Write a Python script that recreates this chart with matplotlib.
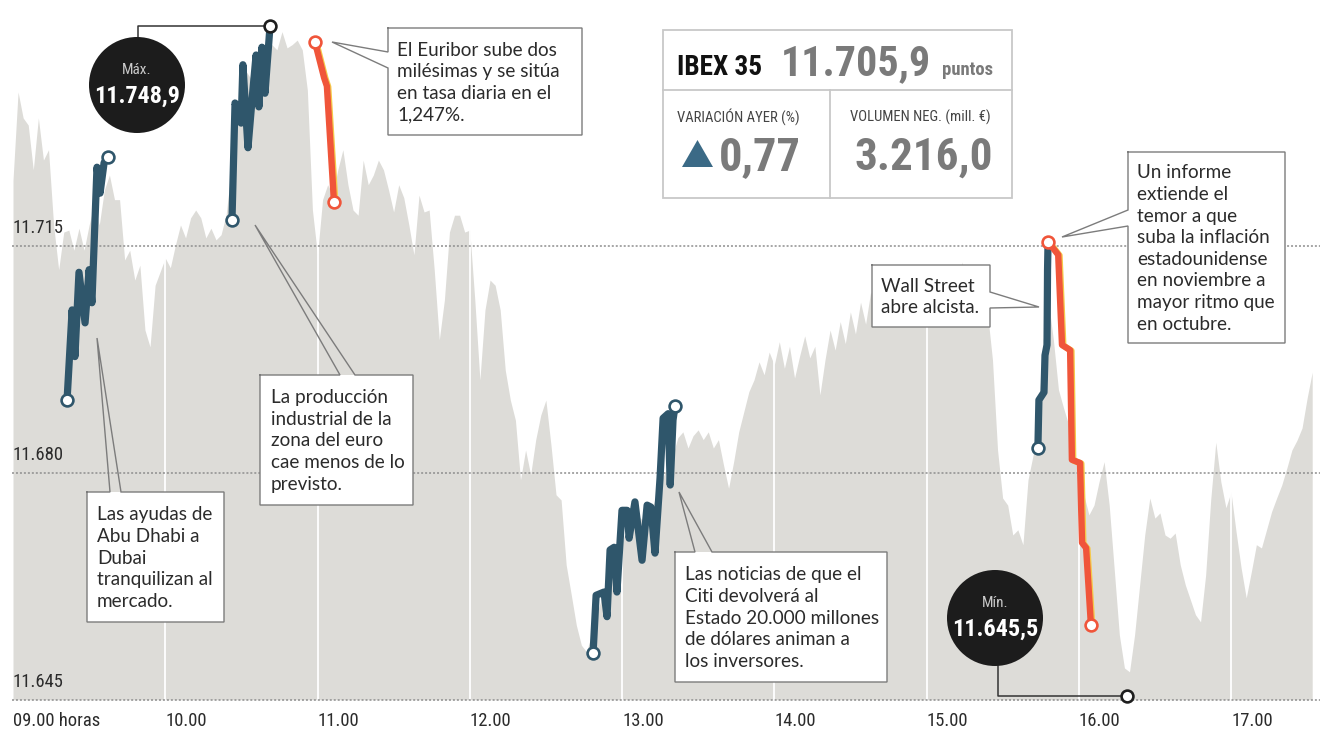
import numpy as np
import matplotlib
matplotlib.use("Agg")
import matplotlib.pyplot as plt
from matplotlib import font_manager as fm
from matplotlib.patches import Circle, Rectangle, Polygon
from matplotlib.transforms import Affine2D, offset_copy

# ---------------------------------------------------------------- data
# IBEX 35 intraday level, sampled every 2 minutes from 09:00
SAMPLE_STEP_MIN = 2
session_values = [
    11725.1, 11738.7, 11734.7, 11733.6, 11726.7, 11734.7, 11728.2, 11729.8, 11718.2, 11711.3,
    11717.1, 11717.4, 11714.3, 11717.7, 11714.3, 11718.2, 11721.3, 11718.2, 11723.6, 11725.9,
    11722.1, 11722.1, 11712.8, 11714.3, 11709.7, 11712.0, 11702.0, 11699.4, 11708.9, 11711.0,
    11713.1, 11711.6, 11715.1, 11718.2, 11716.2, 11719.3, 11720.5, 11719.3, 11716.2, 11717.7,
    11715.9, 11716.7, 11719.8, 11726.7, 11733.6, 11738.2, 11741.8, 11740.6, 11742.4, 11744.3,
    11745.7, 11746.0, 11745.2, 11748.0, 11745.5, 11746.0, 11746.7, 11745.2, 11739.0, 11720.5,
    11713.6, 11722.1, 11724.4, 11722.8, 11726.7, 11729.8, 11724.4, 11720.5, 11719.7, 11728.2,
    11724.4, 11725.9, 11728.2, 11726.7, 11723.6, 11720.2, 11724.4, 11722.4, 11718.2, 11713.6,
    11722.8, 11720.2, 11720.5, 11711.3, 11700.5, 11706.6, 11717.1, 11719.7, 11719.7, 11717.1,
    11717.4, 11706.6, 11694.3, 11705.1, 11709.7, 11708.9, 11705.1, 11695.8, 11691.2, 11688.1,
    11678.9, 11683.5, 11679.7, 11685.1, 11688.9, 11691.2, 11684.3, 11676.6, 11675.8, 11665.8,
    11661.2, 11656.5, 11653.4, 11652.4, 11655.0, 11658.1, 11660.7, 11662.2, 11664.7, 11666.9,
    11669.3, 11671.5, 11672.4, 11673.5, 11672.7, 11675.0, 11674.6, 11677.3, 11679.2, 11681.0,
    11682.7, 11685.4, 11686.3, 11683.8, 11685.7, 11686.6, 11685.1, 11686.3, 11683.8, 11685.1,
    11681.2, 11677.6, 11681.7, 11686.3, 11689.4, 11692.5, 11694.3, 11697.1, 11695.1, 11698.6,
    11696.6, 11700.2, 11696.1, 11699.5, 11694.6, 11698.0, 11701.1, 11697.7, 11699.5, 11692.0,
    11697.4, 11702.0, 11698.9, 11703.3, 11699.9, 11704.8, 11701.4, 11706.3, 11702.9, 11707.9,
    11705.1, 11709.4, 11706.0, 11710.3, 11706.6, 11711.0, 11706.9, 11709.4, 11705.4, 11708.8,
    11703.9, 11707.3, 11704.5, 11709.4, 11706.9, 11710.3, 11706.3, 11712.5, 11708.5, 11711.0,
    11706.6, 11703.9, 11704.8, 11697.4, 11683.5, 11676.1, 11675.0, 11670.4, 11671.2, 11668.9,
    11678.9, 11682.7, 11688.1, 11700.5, 11706.6, 11700.5, 11692.8, 11690.0, 11687.4, 11683.8,
    11680.4, 11676.6, 11673.5, 11675.0, 11678.6, 11681.7, 11675.0, 11665.0, 11655.0, 11649.9,
    11649.3, 11655.0, 11662.7, 11670.4, 11676.1, 11673.0, 11673.8, 11670.4, 11669.9, 11670.7,
    11665.8, 11662.7, 11660.4, 11658.1, 11657.0, 11664.2, 11675.8, 11684.7, 11678.6, 11674.6,
    11677.0, 11670.9, 11665.3, 11660.7, 11664.7, 11668.9, 11668.4, 11671.2, 11674.0, 11676.1,
    11678.1, 11680.7, 11683.5, 11685.0, 11686.9, 11691.5, 11695.5,
]

# highlighted stretches (minutes after 09:00, index level)
abu_dhabi_min = [21.3, 23.3, 24.4, 26.0, 28.4, 30.0, 31.1, 33.1, 34.3, 35.9, 37.4]
abu_dhabi_val = [11691.2, 11705.1, 11697.9, 11710.9, 11703.1, 11711.3, 11706.2, 11727.1,
                 11723.1, 11727.8, 11728.7]

industria_min = [86.3, 87.5, 89.9, 90.6, 92.6, 94.2, 95.8, 96.9, 98.1, 99.3, 101.3]
industria_val = [11719.0, 11737.0, 11733.9, 11742.9, 11730.1, 11737.5, 11744.4, 11736.4,
                 11745.6, 11738.5, 11748.9]

euribor_min = [119.0, 122.6, 123.7, 126.5]
euribor_val = [11746.4, 11740.9, 11739.6, 11721.7]

citi_min = [228.6, 229.8, 232.9, 234.1, 235.3, 236.9, 238.0, 240.0, 242.0, 242.8, 245.1,
            247.9, 249.9, 251.4, 253.0, 255.0, 256.2, 258.2, 259.0, 260.1, 260.9]
citi_val = [11652.2, 11661.1, 11661.6, 11657.8, 11668.1, 11668.5, 11661.6, 11674.2, 11674.2,
            11669.9, 11675.5, 11666.5, 11675.0, 11674.7, 11667.6, 11679.2, 11688.4, 11689.1,
            11678.1, 11688.1, 11690.3]

wall_st_min = [403.9, 404.3, 406.3, 406.7, 407.5, 407.7, 407.9]
wall_st_val = [11683.8, 11691.2, 11692.4, 11698.1, 11699.7, 11711.3, 11715.6]

inflacion_min = [407.9, 411.9, 413.4, 416.6, 417.3, 420.5, 421.3, 422.9, 424.8]
inflacion_val = [11715.6, 11713.6, 11699.7, 11698.9, 11682.0, 11681.5, 11669.2, 11668.4,
                 11656.5]

max_min, max_val = 101.3, 11748.9
low_min, low_val = 439.0, 11645.5

ytick_values = [11645, 11680, 11715]
ytick_labels = ["11.645", "11.680", "11.715"]
xtick_hours = [9, 10, 11, 12, 13, 14, 15, 16, 17]
xtick_labels = ["09.00 horas", "10.00", "11.00", "12.00", "13.00", "14.00", "15.00",
                "16.00", "17.00"]

ibex_close = "11.705,9"
ibex_change = "0,77"
ibex_volume = "3.216,0"

# ---------------------------------------------------------------- fonts
ttf = fm.fontManager.ttflist
names = {f.name for f in ttf}


def pick_narrow():
    for n in ["Roboto Condensed", "Liberation Sans Narrow", "Open Sans Condensed",
              "Noto Sans Condensed", "Noto Sans SemiCondensed", "Fira Sans Condensed",
              "Arial Narrow"]:
        if n in names:
            return dict(family=n), True
    for f in ttf:
        if f.name in ("DejaVu Sans", "Noto Sans", "Open Sans", "Roboto") and \
                f.stretch in ("condensed", "semi-condensed"):
            return dict(family=f.name, stretch=f.stretch), True
    for n in sorted(names):
        if ("Condensed" in n or "Narrow" in n) and "Mono" not in n and "Serif" not in n:
            return dict(family=n), True
    return dict(family="Roboto"), False


NARROW, IS_CONDENSED = pick_narrow()
NS = 1.12 if IS_CONDENSED else 1.0          # condensed faces can run a little larger
BODY = "Lato" if "Lato" in names else "DejaVu Sans"

BLUE = "#2f566b"
RED = "#f0553a"
RED_HALO = "#f5c94a"
AREA = "#dddcd8"
INK = "#2b2b2b"
NUM_GREY = "#7a7a7a"

W, H = 1326, 730
fig = plt.figure(figsize=(W / 100, H / 100), dpi=100)
fig.patch.set_facecolor("white")
ax = fig.add_axes([0, 0, 1, 1])
ax.set_xlim(8.914613, 17.62397)
ax.set_ylim(11640.33, 11752.88)
ax.axis("off")

# pixel layout transform (origin top-left)
PX = Affine2D().scale(1 / W, -1 / H).translate(0, 1) + fig.transFigure


def hrs(minutes):
    return 9 + np.asarray(minutes, dtype=float) / 60.0


# ---------------------------------------------------------------- session area
base = ytick_values[0]
t_all = hrs(np.arange(len(session_values)) * SAMPLE_STEP_MIN)
ax.fill_between(t_all, base, session_values, color=AREA, lw=0, zorder=1)

for h in xtick_hours[1:]:
    ax.plot([h, h], [base, ax.get_ylim()[1]], color="white", lw=1.3, zorder=2)

ax.hlines(ytick_values, 8.993, 17.585, colors="#8e8e8e", linestyles=(0, (1.3, 1.3)),
          lw=1.1, zorder=3)

for v, lab in zip(ytick_values, ytick_labels):
    ax.annotate(lab, xy=(12 / W, v), xycoords=("axes fraction", "data"),
                xytext=(0, 6), textcoords="offset points", ha="left", va="bottom",
                fontsize=12 * NS, color=INK, zorder=3, **NARROW)

for h, lab in zip(xtick_hours, xtick_labels):
    ax.annotate(lab, xy=(h, base), xycoords="data", xytext=(0, -15.5),
                textcoords="offset points", ha="left", va="center",
                fontsize=12 * NS, color=INK, **NARROW)


# ---------------------------------------------------------------- highlighted moves
halo_tr = offset_copy(ax.transData, fig=fig, x=1.3, y=-0.6, units="dots")


def move(mins, vals, color, lw, start_edge=None, end_edge=None, halo=None):
    x = hrs(mins)
    if halo is not None:
        ax.plot(x, vals, color=halo, lw=lw, solid_capstyle="round",
                solid_joinstyle="round", zorder=3.9, transform=halo_tr)
    ax.plot(x, vals, color=color, lw=lw, solid_capstyle="round",
            solid_joinstyle="round", zorder=4)
    for xi, vi, ec in ((x[0], vals[0], start_edge), (x[-1], vals[-1], end_edge)):
        if ec is not None:
            ax.plot([xi], [vi], "o", ms=8.5, mfc="white", mec=ec, mew=1.9, zorder=5)


move(abu_dhabi_min, abu_dhabi_val, BLUE, 5.2, BLUE, BLUE)
move(industria_min, industria_val, BLUE, 5.2, BLUE, None)
move(euribor_min, euribor_val, RED, 4.6, RED, RED, halo=RED_HALO)
move(citi_min, citi_val, BLUE, 5.2, BLUE, BLUE)
move(wall_st_min, wall_st_val, BLUE, 5.2, BLUE, None)
move(inflacion_min, inflacion_val, RED, 4.6, RED, RED, halo=RED_HALO)

# extremes
ax.plot(hrs([max_min]), [max_val], "o", ms=8.5, mfc="white", mec="#1e1e1e", mew=1.9, zorder=6)
ax.plot(hrs([low_min]), [low_val], "o", ms=8.5, mfc="white", mec="#1e1e1e", mew=1.9, zorder=6)


def to_px(h, v):
    return PX.inverted().transform(ax.transData.transform((h, v)))


def bubble(cx, cy, r, head, value, anchor_x, mark_h, mark_v, down):
    ax.add_patch(Circle((cx, cy), r, transform=PX, fc="#1c1c1c", ec="none", zorder=7))
    ax.text(cx, cy - 15, head, transform=PX, ha="center", va="center", fontsize=11,
            color="#c9c9c9", zorder=8, **NARROW)
    ax.text(cx, cy + 11, value, transform=PX, ha="center", va="center",
            fontsize=15.5 * NS, weight="bold", color="white", zorder=8, **NARROW)
    mx, my = to_px(mark_h, mark_v)
    y0 = cy + r if down else cy - r
    ax.plot([anchor_x, anchor_x, mx], [y0, my, my], transform=PX, color="#333333",
            lw=1.1, zorder=5.5)


bubble(137, 85, 48, "Máx.", "11.748,9", 138, hrs(max_min), max_val, down=False)
bubble(995, 618, 48, "Mín.", "11.645,5", 998, hrs(low_min), low_val, down=True)


# ---------------------------------------------------------------- callouts
def callout(text, box, side, base_a, base_b, tip, text_x):
    left, top, right, bottom = box
    ax.add_patch(Rectangle((left, top), right - left, bottom - top, transform=PX,
                           fc="white", ec="none", zorder=7))
    if side == "top":
        pts = [(left, top), (base_a, top), tip, (base_b, top), (right, top),
               (right, bottom), (left, bottom), (left, top)]
    elif side == "left":
        pts = [(left, top), (right, top), (right, bottom), (left, bottom),
               (left, base_b), tip, (left, base_a), (left, top)]
    else:
        pts = [(left, top), (right, top), (right, base_a), tip, (right, base_b),
               (right, bottom), (left, bottom), (left, top)]
    xs, ys = zip(*pts)
    ax.plot(xs, ys, transform=PX, color="#7c7c7c", lw=1.0, zorder=7.5,
            solid_joinstyle="miter")
    ax.text(text_x, (top + bottom) / 2 + 1, text, transform=PX, ha="left", va="center",
            fontsize=13.6, family=BODY, color=INK, linespacing=1.33, zorder=8)


callout("Las ayudas de\nAbu Dhabi a\nDubai\ntranquilizan al\nmercado.",
        (87, 492, 224, 622), "top", 110, 121, (97, 338), 97)
callout("La producción\nindustrial de la\nzona del euro\ncae menos de lo\nprevisto.",
        (260, 375, 413, 505), "top", 340, 355, (255, 225), 271)
callout("El Euribor sube dos\nmilésimas y se sitúa\nen tasa diaria en el\n1,247%.",
        (388, 28, 582, 135), "left", 52, 68, (332, 42), 397)
callout("Las noticias de que el\nCiti devolverá al\nEstado 20.000 millones\n"
        "de dólares animan a\nlos inversores.",
        (675, 552, 887, 682), "top", 695, 712, (679, 492), 685)
callout("Wall Street\nabre alcista.",
        (872, 265, 990, 327), "right", 292, 308, (1039, 307), 881)
callout("Un informe\nextiende el\ntemor a que\nsuba la inflación\nestadounidense\n"
        "en noviembre a\nmayor ritmo que\nen octubre.",
        (1128, 152, 1285, 343), "left", 210, 226, (1062, 237), 1137)

# ---------------------------------------------------------------- index summary
ax.add_patch(Rectangle((663, 30), 349, 168, transform=PX, fc="white", ec="#c8c8c8",
                       lw=1.3, zorder=7))
ax.plot([663, 1012], [90, 90], transform=PX, color="#c8c8c8", lw=1.3, zorder=7.5)
ax.plot([830, 830], [90, 198], transform=PX, color="#c8c8c8", lw=1.3, zorder=7.5)

ax.text(677, 75, "IBEX 35", transform=PX, ha="left", va="baseline", fontsize=17.5 * NS,
        weight="heavy", color="#111111", zorder=8, **NARROW)
ax.text(781, 75, ibex_close, transform=PX, ha="left", va="baseline", fontsize=27 * NS,
        weight="bold", color=NUM_GREY, zorder=8, **NARROW)
ax.text(942, 75, "puntos", transform=PX, ha="left", va="baseline", fontsize=12 * NS,
        weight="bold", color=NUM_GREY, zorder=8, **NARROW)
ax.text(677, 117, "VARIACIÓN AYER (%)", transform=PX, ha="left", va="center",
        fontsize=9.5 * NS, color="#444444", zorder=8, **NARROW)
ax.text(850, 117, "VOLUMEN NEG. (mill. €)", transform=PX, ha="left", va="center",
        fontsize=9.5 * NS, color="#444444", zorder=8, **NARROW)
ax.add_patch(Polygon([(682, 167), (713, 167), (697.5, 140)], closed=True, transform=PX,
                     fc="#3b6a86", ec="none", zorder=8))
ax.text(719, 170, ibex_change, transform=PX, ha="left", va="baseline", fontsize=30 * NS,
        weight="bold", color=NUM_GREY, zorder=8, **NARROW)
ax.text(854, 170, ibex_volume, transform=PX, ha="left", va="baseline", fontsize=29 * NS,
        weight="bold", color=NUM_GREY, zorder=8, **NARROW)

fig.savefig("out.png", dpi=100, facecolor="white")
